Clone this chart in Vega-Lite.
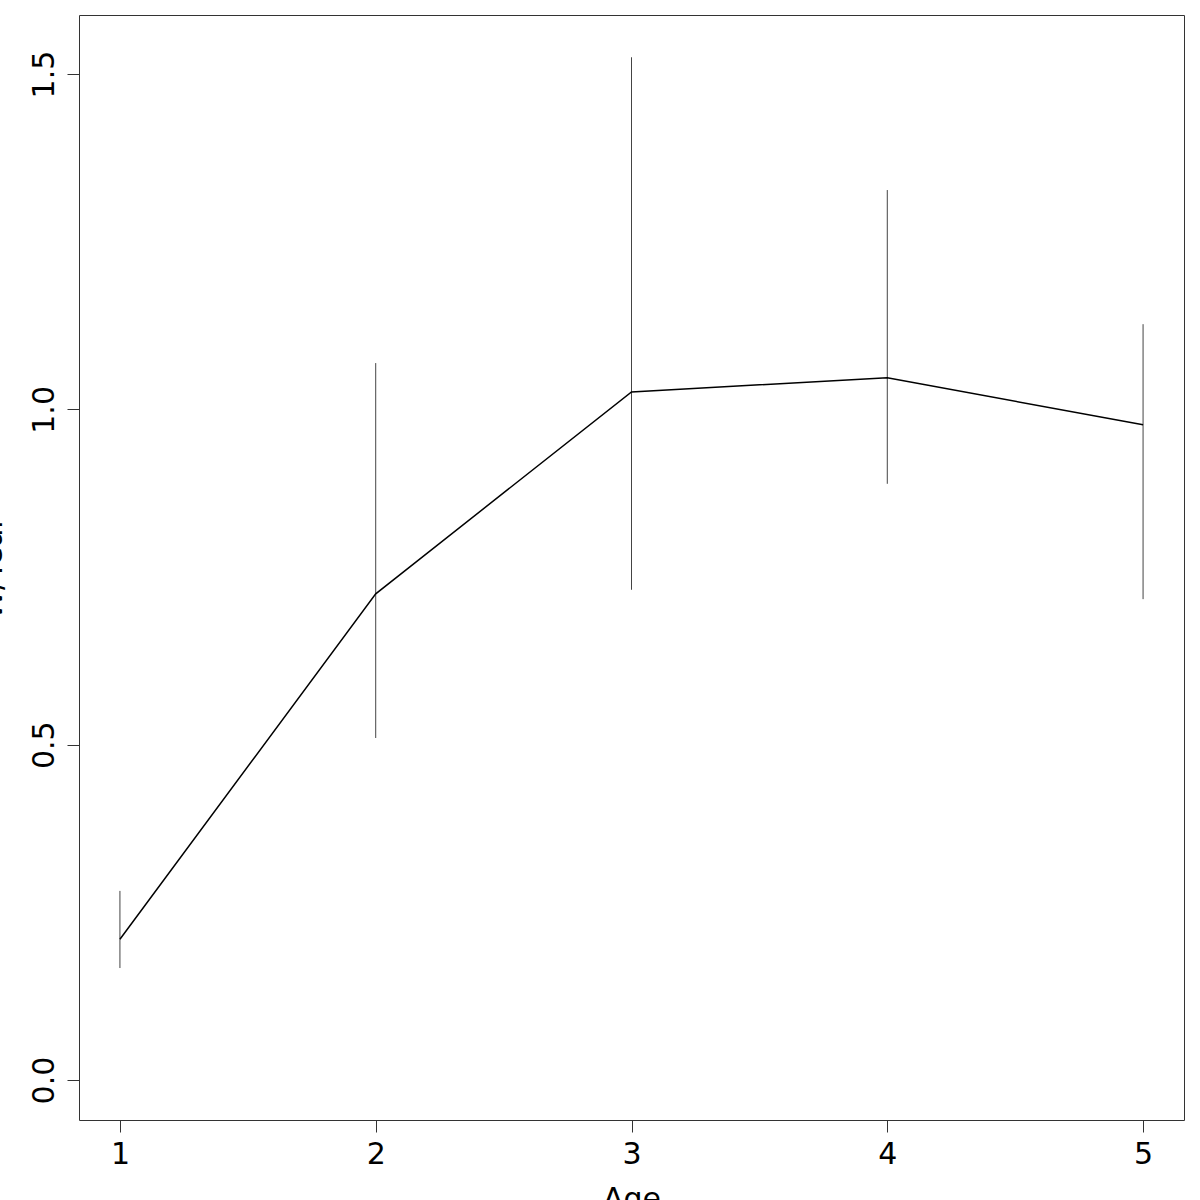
{
  "$schema": "https://vega.github.io/schema/vega-lite/v6.json",
  "autosize": "none",
  "width": 1105,
  "height": 1105,
  "padding": {"left": 79, "top": 15, "right": 16, "bottom": 80},
  "background": "white",
  "config": {
    "view": {"stroke": "#333333", "strokeWidth": 1},
    "font": "DejaVu Sans",
    "axis": {
      "grid": false,
      "domain": false,
      "tickColor": "#333333",
      "tickSize": 12,
      "labelFontSize": 30,
      "titleFontSize": 30,
      "labelColor": "black",
      "titleColor": "black",
      "labelFont": "DejaVu Sans",
      "titleFont": "DejaVu Sans",
      "titleFontWeight": "normal"
    }
  },
  "data": {
    "values": [
      {"Age": 1, "mean": 0.210, "lo": 0.167, "hi": 0.282},
      {"Age": 2, "mean": 0.725, "lo": 0.510, "hi": 1.069},
      {"Age": 3, "mean": 1.026, "lo": 0.731, "hi": 1.525},
      {"Age": 4, "mean": 1.047, "lo": 0.889, "hi": 1.327},
      {"Age": 5, "mean": 0.977, "lo": 0.717, "hi": 1.127}
    ]
  },
  "encoding": {
    "x": {
      "field": "Age",
      "type": "quantitative",
      "scale": {"domain": [0.84, 5.16], "nice": false, "zero": false},
      "axis": {"values": [1, 2, 3, 4, 5], "format": "d", "title": "Age", "labelPadding": 7, "titlePadding": 15}
    }
  },
  "layer": [
    {
      "mark": {"type": "rule", "color": "#444444", "strokeWidth": 1},
      "encoding": {
        "y": {"field": "lo", "type": "quantitative"},
        "y2": {"field": "hi"}
      }
    },
    {
      "mark": {"type": "line", "color": "black", "strokeWidth": 1.5},
      "encoding": {
        "y": {
          "field": "mean",
          "type": "quantitative",
          "scale": {"domain": [-0.0596, 1.588], "nice": false, "zero": false},
          "axis": {
            "values": [0, 0.5, 1, 1.5],
            "format": ".1f",
            "title": "W/Year",
            "labelAngle": 270,
            "labelAlign": "center",
            "labelBaseline": "alphabetic",
            "labelPadding": 14,
            "titlePadding": 22
          }
        }
      }
    }
  ]
}
